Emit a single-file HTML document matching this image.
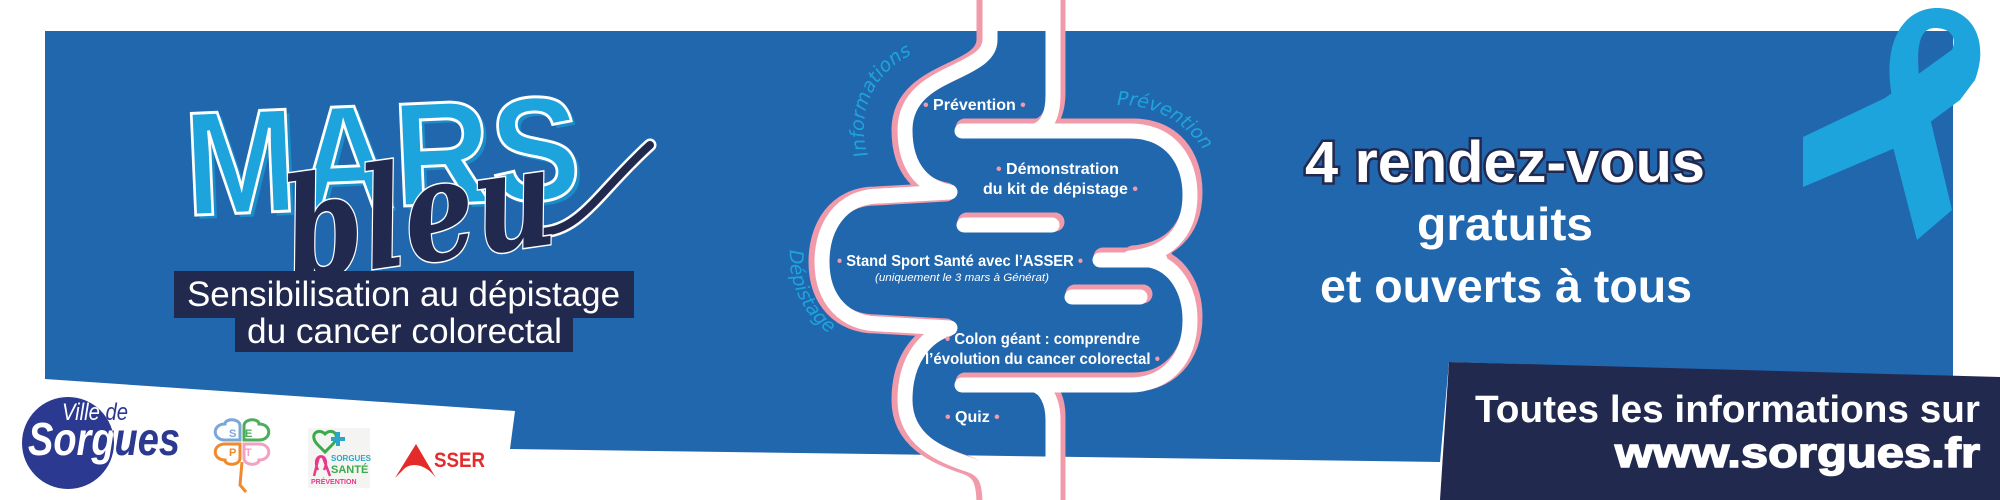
<!DOCTYPE html>
<html><head><meta charset="utf-8"><style>
html,body{margin:0;padding:0;background:#fff;}
svg{display:block;}
</style></head><body>
<svg width="2000" height="500" viewBox="0 0 2000 500" xmlns="http://www.w3.org/2000/svg">
<defs>
<clipPath id="cc"><circle cx="68" cy="443" r="46"/></clipPath>
<path id="pInfo" d="M868,155 A82,82 0 0 1 958,48"/>
<path id="pPrev" d="M1117,105 A100,100 0 0 1 1218,185"/>
<path id="pDep" d="M790,250 A95,95 0 0 0 850,345"/>
</defs>
<!-- main blue panel -->
<polygon points="45,31 1953,31 1953,378 1449,362 1440,462 510,449 515,411 45,379" fill="#2167ae"/>
<!-- navy info box -->
<polygon points="1449,362 2000,377 2000,500 1440,500" fill="#22294f"/>

<!-- ribbon -->
<g fill="#1ea4dc">
<path d="M1893,102 C1880,40 1905,8 1937,8 C1972,8 1990,40 1975,80 L1952,50 C1958,35 1948,28 1935,28 C1920,28 1915,45 1920,85 Z"/>
<polygon points="1803,137 1885,98 1953,49 1975,80 1960,100 1895,148 1803,187"/>
<polygon points="1885,98 1920,88 1930,118 1952,210 1917,240 1893,147"/>
</g>

<!-- MARS -->
<g transform="rotate(-2.5 380 150)" font-family="Liberation Sans, sans-serif" font-weight="bold" font-size="148">
<text x="188" y="211" textLength="396" lengthAdjust="spacingAndGlyphs" fill="#1a8cc8">MARS</text>
<text x="184" y="207" textLength="396" lengthAdjust="spacingAndGlyphs" fill="#1ea4dc" stroke="#ffffff" stroke-width="3">MARS</text>
</g>
<!-- bleu -->
<path d="M540,232 C580,232 600,190 650,145" fill="none" stroke="#ffffff" stroke-width="13" stroke-linecap="round"/>
<path d="M540,232 C580,232 600,190 650,145" fill="none" stroke="#22294f" stroke-width="8" stroke-linecap="round"/>
<g transform="rotate(-8 420 220)">
<text x="285" y="262" font-family="DejaVu Serif, serif" font-style="italic" font-weight="bold" font-size="140" textLength="270" lengthAdjust="spacingAndGlyphs" fill="#22294f" stroke="#ffffff" stroke-width="3" paint-order="stroke">bleu</text>
</g>

<!-- subtitle boxes -->
<rect x="174" y="271" width="460" height="47" fill="#22294f"/>
<rect x="235" y="317" width="338" height="35" fill="#22294f"/>
<g font-family="Liberation Sans, sans-serif" font-size="35" fill="#ffffff">
<text x="187" y="306" textLength="433" lengthAdjust="spacingAndGlyphs">Sensibilisation au dépistage</text>
<text x="247" y="343" textLength="315" lengthAdjust="spacingAndGlyphs">du cancer colorectal</text>
</g>

<!-- logos -->
<circle cx="68" cy="443" r="46" fill="#2b3990"/>
<g font-family="Liberation Sans, sans-serif" font-style="italic">
<text x="62" y="420" font-size="24" fill="#2b3990" textLength="66" lengthAdjust="spacingAndGlyphs">Ville de</text>
<text x="28" y="455" font-weight="bold" font-size="46" fill="#2b3990" textLength="152" lengthAdjust="spacingAndGlyphs">Sorgues</text>
<g clip-path="url(#cc)">
<text x="62" y="420" font-size="24" fill="#ffffff" textLength="66" lengthAdjust="spacingAndGlyphs">Ville de</text>
<text x="28" y="455" font-weight="bold" font-size="46" fill="#ffffff" textLength="152" lengthAdjust="spacingAndGlyphs">Sorgues</text>
</g>
</g>
<g fill="none" stroke-width="3">
<path d="M240,440 L225,440 C212,440 212,424 225,424 C225,418 240,418 240,426 Z" stroke="#7aa7d8"/>
<path d="M244,440 L244,426 C244,418 259,418 259,424 C272,424 272,440 259,440 Z" stroke="#4cae5a"/>
<path d="M240,444 L225,444 C212,444 212,460 225,460 C225,466 240,466 240,458 Z" stroke="#f08a2c"/>
<path d="M244,444 L259,444 C272,444 272,460 259,460 C259,466 244,466 244,458 Z" stroke="#f4a0c0"/>
<path d="M242,462 L240,485 L246,492" stroke="#f08a2c"/>
</g>
<g font-family="Liberation Sans, sans-serif" font-size="11" font-weight="bold">
<text x="229" y="437" fill="#7aa7d8">S</text><text x="245" y="437" fill="#4cae5a">E</text>
<text x="229" y="456" fill="#f08a2c">P</text><text x="245" y="456" fill="#f4a0c0">T</text>
</g>
<rect x="308" y="428" width="62" height="60" fill="#f4f4f2"/>
<path d="M318,445 C308,435 318,427 325,434 C332,427 342,435 332,445 L325,452 Z" fill="none" stroke="#3aaa4a" stroke-width="3"/>
<path d="M331,437 h5 v-5 h4 v5 h5 v4 h-5 v5 h-4 v-5 h-5 Z" fill="#2aa7c8"/>
<path d="M318,470 C312,458 322,452 324,460 L330,476 M324,470 C330,458 320,452 318,460 L314,476" fill="none" stroke="#e8398a" stroke-width="2.5"/>
<g font-family="Liberation Sans, sans-serif" font-weight="bold">
<text x="331" y="461" font-size="8" fill="#2aa7c8">SORGUES</text>
<text x="331" y="473" font-size="11" fill="#3aaa4a">SANTÉ</text>
<text x="311" y="484" font-size="7" fill="#e8398a">PRÉVENTION</text>
</g>
<path d="M395,478 L416,444 L436,478 C425,463 410,462 403,470 Z" fill="#e52a2a"/>
<text x="434" y="467" font-family="Liberation Sans, sans-serif" font-weight="bold" font-size="21" fill="#e52a2a" textLength="51" lengthAdjust="spacingAndGlyphs">SSER</text>

<!-- colon: pink outer lines -->
<g fill="none" stroke="#f09aaa" stroke-width="19" stroke-linejoin="round" stroke-linecap="round">
<g transform="translate(-4,0)">
<path d="M990,-5 L990,40 C990,75 905,70 905,130 C905,172 928,188 950,192 L880,196 C840,196 822,228 822,262 C822,300 845,324 880,324 L950,328 C925,336 905,360 905,400 C905,440 940,455 970,465 C985,470 990,480 990,505"/>
</g>
<g transform="translate(3,-3)">
<path d="M1053,-5 L1053,95 C1053,118 1045,128 1035,131"/>
<path d="M962,131 L1130,131 C1170,131 1190,160 1190,195 C1190,235 1165,255 1130,258"/>
<path d="M1100,260 L1160,260"/>
<path d="M1150,260 C1175,265 1190,290 1190,320 C1190,360 1165,385 1130,385 L962,385"/>
<path d="M1035,385 C1045,388 1053,400 1053,420 L1053,505"/>
<path d="M964,225 L1052,225"/><path d="M1072,297 L1140,297"/>
</g>
</g>
<!-- colon: white tube -->
<g fill="none" stroke="#ffffff" stroke-width="15" stroke-linejoin="round" stroke-linecap="round">
<path d="M990,-5 L990,40 C990,75 905,70 905,130 C905,172 928,188 950,192 L880,196 C840,196 822,228 822,262 C822,300 845,324 880,324 L950,328 C925,336 905,360 905,400 C905,440 940,455 970,465 C985,470 990,480 990,505"/>
<path d="M1053,-5 L1053,95 C1053,118 1045,128 1035,131"/>
<path d="M962,131 L1130,131 C1170,131 1190,160 1190,195 C1190,235 1165,255 1130,258"/>
<path d="M1100,260 L1160,260"/>
<path d="M1150,260 C1175,265 1190,290 1190,320 C1190,360 1165,385 1130,385 L962,385"/>
<path d="M1035,385 C1045,388 1053,400 1053,420 L1053,505"/>
<path d="M964,225 L1052,225"/><path d="M1072,297 L1140,297"/>
</g>

<!-- colon labels -->
<g font-family="Liberation Sans, sans-serif" font-weight="bold" font-size="16" fill="#ffffff">
<text x="923" y="110"><tspan fill="#f09aaa">• </tspan>Prévention<tspan fill="#f09aaa"> •</tspan></text>
<text x="996" y="174"><tspan fill="#f09aaa">• </tspan>Démonstration</text>
<text x="983" y="194">du kit de dépistage<tspan fill="#f09aaa"> •</tspan></text>
<text x="837" y="266" textLength="246" lengthAdjust="spacingAndGlyphs"><tspan fill="#f09aaa">• </tspan>Stand Sport Santé avec l’ASSER<tspan fill="#f09aaa"> •</tspan></text>
<text x="875" y="281" font-size="11" font-weight="normal" font-style="italic" textLength="174" lengthAdjust="spacingAndGlyphs">(uniquement le 3 mars à Générat)</text>
<text x="945" y="344" textLength="195" lengthAdjust="spacingAndGlyphs"><tspan fill="#f09aaa">• </tspan>Colon géant : comprendre</text>
<text x="925" y="364" textLength="235" lengthAdjust="spacingAndGlyphs">l’évolution du cancer colorectal<tspan fill="#f09aaa"> •</tspan></text>
<text x="945" y="422"><tspan fill="#f09aaa">• </tspan>Quiz<tspan fill="#f09aaa"> •</tspan></text>
</g>
<g font-family="DejaVu Sans, sans-serif" font-style="italic" font-size="19" fill="#1ea4dc">
<text><textPath href="#pInfo">Informations</textPath></text>
<text><textPath href="#pPrev">Prévention</textPath></text>
<text><textPath href="#pDep">Dépistage</textPath></text>
</g>

<!-- right text -->
<g font-family="Liberation Sans, sans-serif" font-weight="bold" fill="#ffffff" text-anchor="middle">
<text x="1505" y="182" font-size="58" stroke="#22294f" stroke-width="5" paint-order="stroke" textLength="400" lengthAdjust="spacingAndGlyphs">4 rendez-vous</text>
<text x="1505" y="240" font-size="46" textLength="176" lengthAdjust="spacingAndGlyphs">gratuits</text>
<text x="1506" y="302" font-size="46" textLength="372" lengthAdjust="spacingAndGlyphs">et ouverts à tous</text>
</g>
<g font-family="Liberation Sans, sans-serif" font-weight="bold" fill="#ffffff">
<text x="1475" y="422" font-size="38" textLength="505" lengthAdjust="spacingAndGlyphs">Toutes les informations sur</text>
<text x="1615" y="467" font-size="42" stroke="#ffffff" stroke-width="1.5" textLength="365" lengthAdjust="spacingAndGlyphs">www.sorgues.fr</text>
</g>
</svg>
</body></html>
